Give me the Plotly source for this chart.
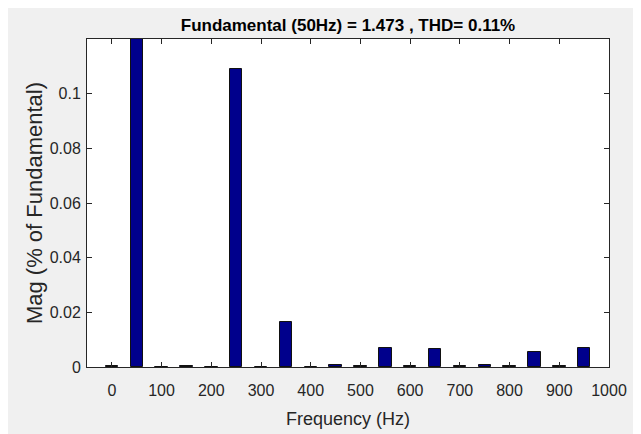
import plotly.graph_objects as go

# Harmonic frequencies (Hz) and magnitudes (% of fundamental)
freqs = [0, 50, 100, 150, 200, 250, 300, 350, 400, 450,
         500, 550, 600, 650, 700, 750, 800, 850, 900, 950]
mags = [0.0005, 100.0, 0.0001, 0.0005, 0.0001, 0.109, 0.0001, 0.0165, 0.0001, 0.0009,
        0.0005, 0.0070, 0.0005, 0.0066, 0.0005, 0.0009, 0.0005, 0.0055, 0.0005, 0.0070]

x_ticks = [0, 100, 200, 300, 400, 500, 600, 700, 800, 900, 1000]
y_ticks = [0, 0.02, 0.04, 0.06, 0.08, 0.1]
y_tick_labels = ["0", "0.02", "0.04", "0.06", "0.08", "0.1"]

title_text = "Fundamental (50Hz) = 1.473 , THD= 0.11%"
x_title = "Frequency (Hz)"
y_title = "Mag (% of Fundamental)"

FONT = "Liberation Sans, Arial, Helvetica, sans-serif"
AX = "#262626"

fig = go.Figure()
fig.add_trace(go.Bar(
    x=freqs, y=mags, width=25,
    marker=dict(color="#00008C", line=dict(color="#111111", width=1)),
    showlegend=False,
))

W, H = 632, 426
L, R, T, B = 79, 31, 31, 67

fig.update_layout(
    width=W, height=H,
    margin=dict(l=L, r=R, t=T, b=B, autoexpand=False),
    paper_bgcolor="#F0F0F0",
    plot_bgcolor="white",
    bargap=0,
    title=dict(text="<b>" + title_text + "</b>", x=0.5, xanchor="center", xref="paper",
               y=1 - 17 / H, yanchor="middle", yref="container",
               font=dict(family=FONT, size=17, color="black")),
    xaxis=dict(
        range=[-50, 1000], tickvals=x_ticks, ticktext=[str(v) for v in x_ticks],
        ticks="inside", ticklen=5, tickwidth=1, tickcolor=AX,
        showline=True, linecolor=AX, linewidth=1, mirror="allticks",
        showgrid=False, zeroline=False, automargin=False,
        tickfont=dict(family=FONT, size=16, color=AX),
        ticklabelstandoff=9,
        title=dict(text=x_title, font=dict(family=FONT, size=18, color=AX), standoff=14),
    ),
    yaxis=dict(
        range=[0, 0.12], tickvals=y_ticks, ticktext=y_tick_labels,
        ticks="inside", ticklen=5, tickwidth=1, tickcolor=AX,
        showline=True, linecolor=AX, linewidth=1, mirror="allticks",
        showgrid=False, zeroline=False, automargin=False,
        tickfont=dict(family=FONT, size=16, color=AX),
        ticklabelstandoff=2,
        title=dict(text=y_title, font=dict(family=FONT, size=22, color=AX), standoff=0),
    ),
)

fig.write_html("out.html")
